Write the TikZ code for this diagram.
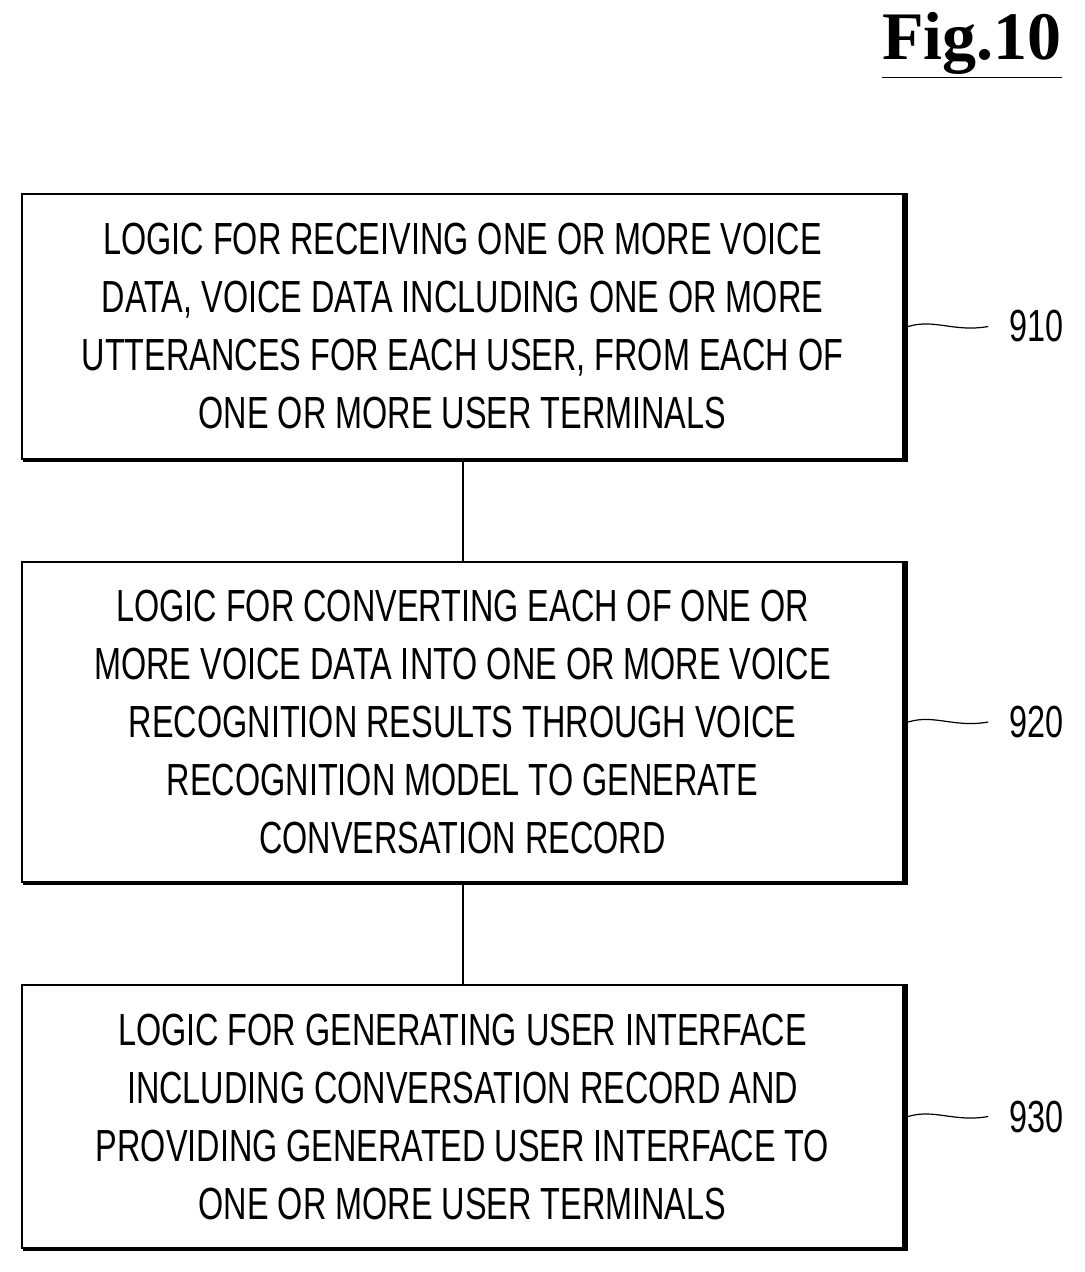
\documentclass[tikz,border=0pt]{standalone}
\usepackage{fontspec}
\setmainfont{Liberation Sans}[FakeStretch=0.72]
\newfontfamily\figfont{Liberation Serif}
\usetikzlibrary{decorations.pathmorphing}
\begin{document}
\begin{tikzpicture}[x=0.5pt,y=-0.5pt,
  box/.style={draw,line width=1.2pt,minimum width=440.5pt,align=center,font=\fontsize{22.5}{29}\selectfont,inner sep=0pt},
  lbl/.style={font=\fontsize{22.5}{27}\selectfont,inner sep=0pt},
  sq/.style={line width=0.6pt}]
\useasboundingbox (0,0) rectangle (1084,1272);
\node[anchor=north east,font=\figfont\bfseries\fontsize{34}{40}\selectfont,inner sep=0pt] (t) at (1062,12) {\underline{Fig.10}};
\node[box,minimum height=132.5pt] (b1) at (462.5,326.5) {LOGIC FOR RECEIVING ONE OR MORE VOICE\\DATA, VOICE DATA INCLUDING ONE OR MORE\\UTTERANCES FOR EACH USER, FROM EACH OF\\ONE OR MORE USER TERMINALS};
\node[box,minimum height=160pt] (b2) at (462.5,722) {LOGIC FOR CONVERTING EACH OF ONE OR\\MORE VOICE DATA INTO ONE OR MORE VOICE\\RECOGNITION RESULTS THROUGH VOICE\\RECOGNITION MODEL TO GENERATE\\CONVERSATION RECORD};
\node[box,minimum height=131.5pt] (b3) at (462.5,1116.5) {LOGIC FOR GENERATING USER INTERFACE\\INCLUDING CONVERSATION RECORD AND\\PROVIDING GENERATED USER INTERFACE TO\\ONE OR MORE USER TERMINALS};
\foreach \b in {b1,b2,b3}{
  \draw[line width=2pt] ([xshift=1pt]\b.south west) -- ([xshift=1pt]\b.south east) -- ([xshift=1pt]\b.north east);}
\draw[line width=1pt] (b1.south) -- (b2.north);
\draw[line width=1pt] (b2.south) -- (b3.north);
\foreach \b/\n in {b1/910,b2/920,b3/930}{
  \node[lbl,anchor=east] (l\n) at ([xshift=80pt]\b.east) {\n};
  \draw[sq] ([xshift=2pt]\b.east) .. controls ([xshift=15pt,yshift=4pt]\b.east) and ([xshift=25pt,yshift=-3pt]\b.east) .. ([xshift=42pt]\b.east);
}
\end{tikzpicture}
\end{document}
